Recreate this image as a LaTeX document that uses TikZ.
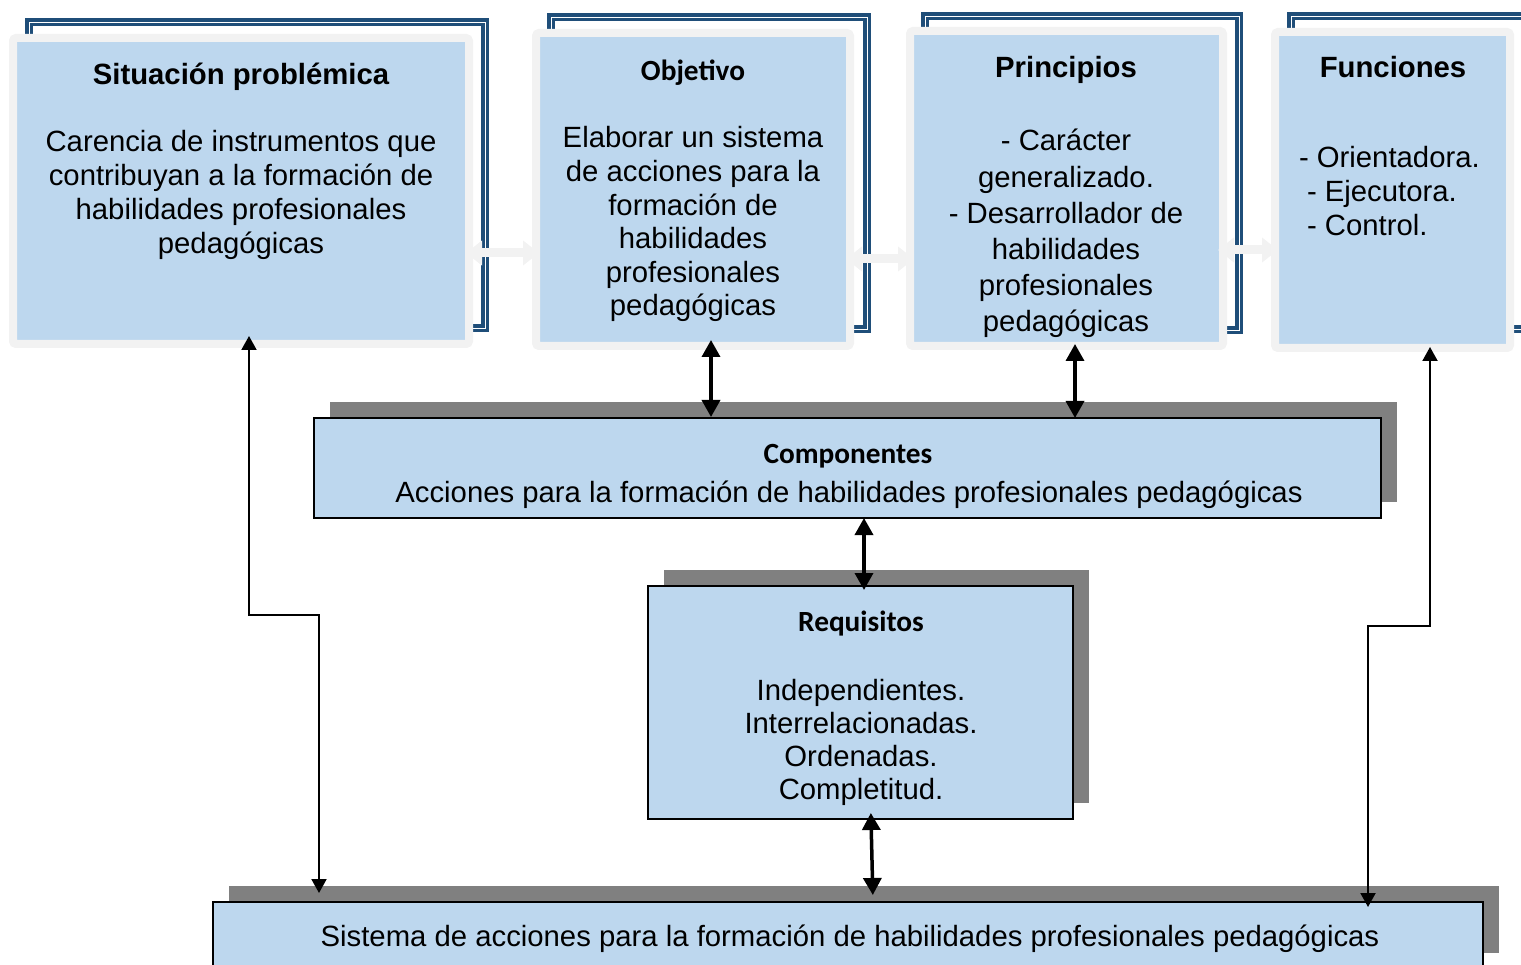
\documentclass[tikz,border=0pt]{standalone}
\usepackage{fontspec}
\setmainfont{Liberation Sans}
\newfontfamily\carl{Carlito}
\usetikzlibrary{arrows.meta,shadows}
\definecolor{lblue}{HTML}{BDD7EE}
\definecolor{lgray}{HTML}{F2F2F2}
\definecolor{fblue}{HTML}{1F4E79}
\definecolor{shgray}{HTML}{808080}
\newcommand\fr{\rule{0pt}{30pt}}
\newcommand\fsz[1]{\fontsize{29.3pt}{#1}\selectfont}
\begin{document}
\begin{tikzpicture}[x=1pt,y=-1pt,
  frame/.style={draw=fblue, double=white, double distance=0.8pt, line width=3.6pt},
  topbox/.style={rectangle, draw=lgray, line width=8pt, fill=lblue, rounded corners=3pt, inner sep=0pt, outer sep=0pt},
  midbox/.style={rectangle, draw=black, line width=1.5pt, fill=lblue, inner sep=0pt, outer sep=0pt,
     general shadow={fill=shgray, shadow xshift=16pt, shadow yshift=16pt}},
  txt/.style={inner sep=0pt, outer sep=0pt},
  garrow/.style={draw=lgray, line width=9pt, {Triangle[width=24pt,length=16pt]}-{Triangle[width=24pt,length=16pt]}},
  barrow/.style={line width=3.5pt, {Triangle[width=18pt,length=17pt]}-{Triangle[width=18pt,length=17pt]}},
  tarrow/.style={line width=2pt, {Triangle[width=15pt,length=14pt]}-{Triangle[width=15pt,length=14pt]}}
]
\useasboundingbox (0,0) rectangle (1521,965);
\clip (0,0) rectangle (1521,965);

% double frames behind the top boxes
\draw[frame] (29,22) rectangle (485,328);
\draw[frame] (551,17) rectangle (867,329);
\draw[frame] (925,16) rectangle (1239,330);
\draw[frame] (1291,16) rectangle (1560,329);

% top boxes
\node[topbox, minimum width=456pt, minimum height=306pt] (sit) at (241,191) {};
\node[topbox, minimum width=314pt, minimum height=313pt] (obj) at (693,189.5) {};
\node[topbox, minimum width=313pt, minimum height=315pt] (pri) at (1066.5,188.5) {};
\node[topbox, minimum width=235pt, minimum height=316pt] (fun) at (1392.5,190) {};

% texts of top boxes
\node[txt, anchor=base, font=\fsz{34pt}\bfseries] (sitT) at (241,85) {Situación problémica};
\node[txt, anchor=north, align=center, font=\fsz{34pt}] (sitB) at (241,122)
  {\fr Carencia de instrumentos que\\contribuyan a la formación de\\habilidades profesionales\\pedagógicas};

\node[txt, anchor=base, font=\fsz{34pt}\carl\bfseries] (objT) at (693,81) {Objetivo};
\node[txt, anchor=north, align=center, font=\fsz{33.6pt}] (objB) at (693,118)
  {\fr Elaborar un sistema\\de acciones para la\\formación de\\habilidades\\profesionales\\pedagógicas};

\node[txt, anchor=base, font=\fsz{34pt}\bfseries] (priT) at (1066,78) {Principios};
\node[txt, anchor=north, align=center, font=\fsz{36.2pt}] (priB) at (1066,121)
  {\fr - Carácter\\generalizado.\\- Desarrollador de\\habilidades\\profesionales\\pedagógicas};

\node[txt, anchor=base, font=\fsz{34pt}\bfseries] (funT) at (1393,78) {Funciones};
\node[txt, anchor=north west, align=left, font=\fsz{34pt}] (funB) at (1299,138)
  {\fr - Orientadora.\\\hspace*{8pt}- Ejecutora.\\\hspace*{8pt}- Control.};

% light grey arrows between top boxes
\draw[garrow, shorten <=-3pt, shorten >=-3pt] (sit.east |- 0,253) -- (obj.west |- 0,253);
\draw[garrow, shorten <=-4pt, shorten >=-4pt] (obj.east |- 0,259) -- (pri.west |- 0,259);
\draw[garrow, shorten <=-5pt, shorten >=-3pt] (pri.east |- 0,250) -- (fun.west |- 0,250);

% middle boxes
\node[midbox, minimum width=1067pt, minimum height=100pt] (comp) at (847.5,468) {};
\node[txt, anchor=base, font=\fsz{34pt}\carl\bfseries] (compT) at (848,463) {Componentes};
\node[txt, anchor=base, font=\fsz{34pt}] (compB) at (849,502) {Acciones para la formación de habilidades profesionales pedagógicas};

\node[midbox, minimum width=425pt, minimum height=233pt] (req) at (860.5,702.5) {};
\node[txt, anchor=base, font=\fsz{34pt}\carl\bfseries] (reqT) at (861,631) {Requisitos};
\node[txt, anchor=north, align=center, font=\fsz{33.3pt}] (reqB) at (861,670)
  {\fr Independientes.\\Interrelacionadas.\\Ordenadas.\\Completitud.};

\node[midbox, minimum width=1270pt, minimum height=67pt] (sis) at (848,935.5) {};
\node[txt, anchor=base, font=\fsz{34pt}] (sisT) at (850,946) {Sistema de acciones para la formación de habilidades profesionales pedagógicas};

% black connectors
\draw[barrow, shorten <=-6pt, shorten >=1pt] (obj.south -| 711,0) -- (comp.north -| 711,0);
\draw[barrow, shorten <=-2pt] (pri.south -| 1075,0) -- (comp.north -| 1075,0);
\draw[barrow, shorten >=-4pt] (comp.south -| 864,0) -- (req.north -| 864,0);
\draw[barrow, shorten <=-6pt, shorten >=7pt] (req.south -| 871,0) -- (sis.north -| 873,0);

\draw[tarrow, shorten <=-8pt, shorten >=9pt] (sit.south -| 249,0) |- (319,615) -- (sis.north -| 319,0);
\draw[tarrow, shorten <=-1pt, shorten >=-5pt] (fun.south -| 1430,0) |- (1368,626) -- (sis.north -| 1368,0);
\end{tikzpicture}
\end{document}
